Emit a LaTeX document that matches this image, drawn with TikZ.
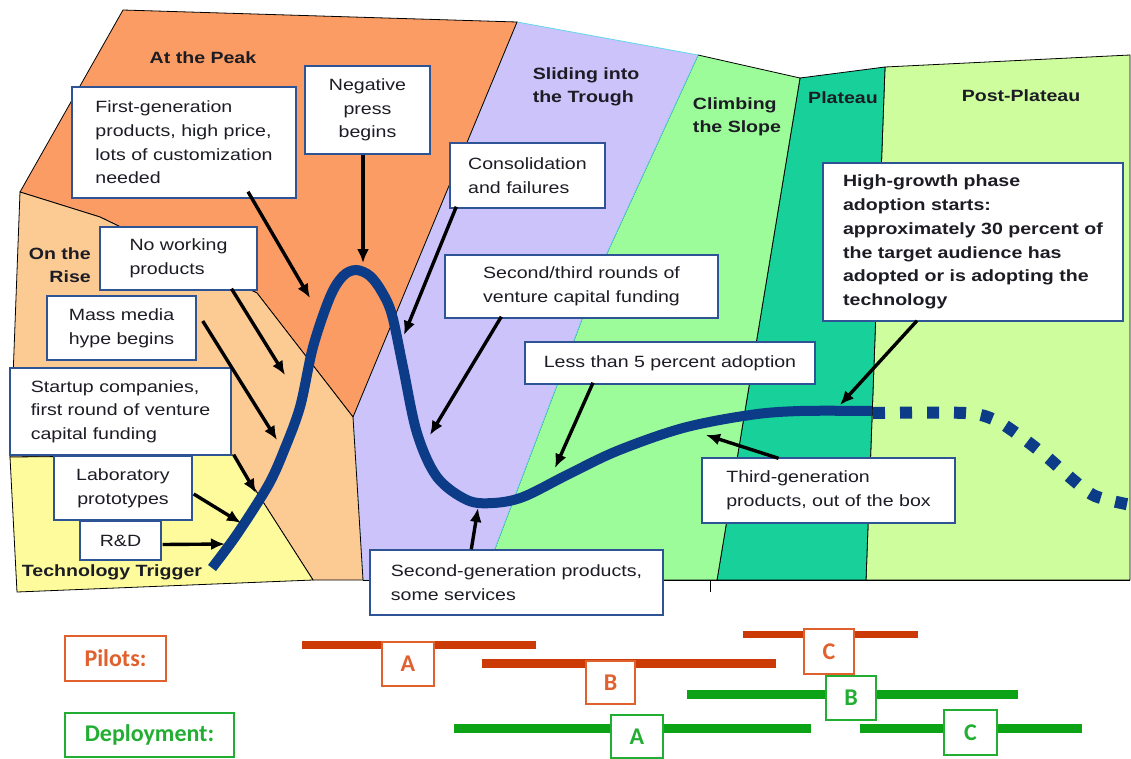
\documentclass[tikz,border=0pt]{standalone}
\usepackage{fontspec}
\setmainfont[FakeStretch=1.2]{Liberation Sans}
\newfontfamily\legendfont{Carlito}
\usetikzlibrary{arrows.meta,positioning}
\definecolor{peakorange}{HTML}{FA9C64}
\definecolor{riseorange}{HTML}{FCCB94}
\definecolor{triggeryellow}{HTML}{FDFB9C}
\definecolor{troughlilac}{HTML}{CCC3FA}
\definecolor{slopegreen}{HTML}{9DFC9A}
\definecolor{plateauteal}{HTML}{17D09A}
\definecolor{postgreen}{HTML}{CDFD9C}
\definecolor{cyanedge}{HTML}{5FD8EE}
\definecolor{hypeblue}{HTML}{0C3B88}
\definecolor{boxblue}{HTML}{2E5496}
\definecolor{textdark}{HTML}{1C1C24}
\definecolor{pilotred}{HTML}{CC3A06}
\definecolor{pilotedge}{HTML}{E0602E}
\definecolor{deploygreen}{HTML}{0CA316}
\definecolor{deployedge}{HTML}{22AE32}
\tikzset
{
  infobox/.style  = {rectangle, draw=boxblue, line width=1.4pt, fill=white, text=textdark, align=left, inner sep=3pt, font=\fontsize{16.3}{23.7}\selectfont},
  phase/.style    = {text=textdark, align=left, inner sep=0pt, font=\bfseries\fontsize{16.3}{23}\selectfont},
  pointer/.style  = {-{Latex[length=14pt,width=12pt]}, line width=3.4pt, black},
  region/.style   = {draw=black, line width=0.8pt},
  pilotbox/.style = {rectangle, draw=pilotedge, line width=1.6pt, fill=white, text=pilotedge, inner sep=0pt, font=\legendfont\bfseries\fontsize{24}{26}\selectfont},
  deploybox/.style= {rectangle, draw=deployedge, line width=1.6pt, fill=white, text=deployedge, inner sep=0pt, font=\legendfont\bfseries\fontsize{24}{26}\selectfont}
}
\begin{document}
\begin{tikzpicture}[x=1pt,y=-1pt]
  \useasboundingbox (0,0) rectangle (1131,758);
  % phases of the cycle
  \filldraw[region, fill=postgreen] (885,67) -- (1130,55) -- (1130,580) -- (866,580) -- cycle;
  \filldraw[region, fill=plateauteal] (800,78) -- (885,67) -- (866,580) -- (717,580) -- cycle;
  \filldraw[region, fill=slopegreen] (698,55) -- (800,78) -- (717,580) -- (483,580) -- (607,253) -- cycle;
  \filldraw[region, draw=cyanedge, fill=troughlilac] (517,22) -- (698,55) -- (607,253) -- (483,580) -- (363,580) -- (353,417) -- cycle;
  \filldraw[region, fill=peakorange] (123,10) -- (517,22) -- (353,417) -- (257,293) -- (100,217) -- (20,192) -- cycle;
  \filldraw[region, fill=riseorange] (20,192) -- (100,217) -- (257,293) -- (353,417) -- (363,580) -- (313,580) -- (233,455) -- (10,457) -- cycle;
  \filldraw[region, fill=triggeryellow] (10,457) -- (233,455) -- (313,580) -- (17,592) -- cycle;
  \draw[line width=0.8pt] (363,580) -- (1130,580);
  \draw[line width=0.8pt] (710,580) -- (710,592);

  \node[phase] (peak) at (203,58) {At the Peak};
  \node[phase] (trough) at (586,87) {Sliding into\\the Trough};
  \node[phase] (slope) at (737,117) {Climbing\\the Slope};
  \node[phase] (plateau) at (843,98) {Plateau};
  \node[phase] (post) at (1021,96) {Post-Plateau};
  \node[phase, align=right, anchor=east] (rise) at (91,265) {On the\\Rise};
  \node[phase] (trigger) at (112,572) {Technology Trigger};

  % hype curve
  \draw[hypeblue, line width=10pt] plot[smooth, tension=0.55] coordinates {(212,568) (233,540) (253,510) (270,482) (283,453) (300,407) (313,347) (330,297) (343,276) (356,270) (370,276) (382,292) (392,315) (403,367) (417,433) (437,477) (467,500) (493,503) (523,497) (567,475) (617,451) (683,428) (750,415) (800,411) (872,411)};
  \draw[hypeblue, line width=12pt, dash pattern=on 12pt off 15pt] plot[smooth, tension=0.5] coordinates {(873,413) (965,413) (995,420) (1020,436) (1047,457) (1072,479) (1095,496) (1131,505)};

  % callouts
  \node[infobox, minimum width=224pt, minimum height=111pt] (first) at (184,142.5) {First-generation\\products, high price,\\lots of customization\\needed};
  \node[infobox, align=center, minimum width=125pt, minimum height=88pt] (negpress) at (367.5,110) {Negative\\press\\begins};
  \node[infobox, minimum width=157pt, minimum height=63pt] (nowork) at (178.5,258.5) {No working\\products};
  \node[infobox, minimum width=149pt, minimum height=64pt] (massmedia) at (121.5,328) {Mass media\\hype begins};
  \node[infobox, minimum width=221pt, minimum height=87pt] (startup) at (120.5,411.5) {Startup companies,\\first round of venture\\capital funding};
  \node[infobox, align=center, minimum width=138pt, minimum height=64pt] (lab) at (123,488) {Laboratory\\prototypes};
  \node[infobox, minimum width=81pt, minimum height=39pt] (rnd) at (120.5,540.5) {R\&D};
  \node[infobox, minimum width=155pt, minimum height=65pt] (consol) at (527.5,175.5) {Consolidation\\and failures};
  \node[infobox, minimum width=273pt, minimum height=63pt] (secthird) at (581.5,286.5) {Second/third rounds of\\venture capital funding};
  \node[infobox, minimum width=290pt, minimum height=42pt] (lessfive) at (670,363) {Less than 5 percent adoption};
  \node[infobox, font=\bfseries\fontsize{16.3}{23.7}\selectfont, minimum width=300pt, minimum height=158pt] (highgrowth) at (973,242) {High-growth phase\\adoption starts:\\approximately 30 percent of\\the target audience has\\adopted or is adopting the\\technology};
  \node[infobox, minimum width=253pt, minimum height=65pt] (thirdgen) at (828.5,490.5) {Third-generation\\products, out of the box};
  \node[infobox, minimum width=293pt, minimum height=65pt] (secondgen) at (516.5,582.5) {Second-generation products,\\some services};

  \coordinate (tipfirst) at (310,298);
  \coordinate (tipneg) at (363,263);
  \coordinate (tipnowork) at (285,375);
  \coordinate (tipmass) at (277,440);
  \coordinate (tipstartup) at (256,493);
  \coordinate (tiplab) at (241,523);
  \coordinate (tiprnd) at (225,544);
  \coordinate (tipconsol) at (404,335);
  \coordinate (tipsecthird) at (430,435);
  \coordinate (tipless) at (555,468);
  \coordinate (tiphigh) at (840,405);
  \coordinate (tipthird) at (706,435);
  \coordinate (tipsecond) at (478,508);

  \draw[pointer] ([xshift=64pt,yshift=7pt]first.south) -- (tipfirst);
  \draw[pointer] ([xshift=-4.5pt]negpress.south) -- (tipneg);
  \draw[pointer] ([xshift=53pt,yshift=2pt]nowork.south) -- (tipnowork);
  \draw[pointer] ([xshift=6pt,yshift=7pt]massmedia.east) -- (tipmass);
  \draw[pointer] ([xshift=2pt,yshift=1pt]startup.south east) -- (tipstartup);
  \draw[pointer] ([xshift=1pt,yshift=-6pt]lab.east) -- (tiplab);
  \draw[pointer] ([xshift=1pt,yshift=-4pt]rnd.east) -- (tiprnd);
  \draw[pointer] ([xshift=7pt,yshift=2pt]consol.south west) -- (tipconsol);
  \draw[pointer] ([xshift=57pt,yshift=2pt]secthird.south west) -- (tipsecthird);
  \draw[pointer] ([xshift=-77pt,yshift=2pt]lessfive.south) -- (tipless);
  \draw[pointer] ([xshift=-56pt,yshift=1pt]highgrowth.south) -- (tiphigh);
  \draw[pointer] ([xshift=-50pt,yshift=-1pt]thirdgen.north) -- (tipthird);
  \draw[pointer] ([xshift=102pt]secondgen.north west) -- (tipsecond);

  % pilots and deployment
  \node[pilotbox, minimum width=101pt, minimum height=45pt] (pilots) at (115.5,658.5) {Pilots:};
  \node[deploybox, minimum width=169pt, minimum height=44pt] (deploy) at (149.5,735) {Deployment:};

  \draw[pilotred, line width=8pt] (302,645) -- (536,645);
  \draw[pilotred, line width=9pt] (482,663) -- (776,663);
  \draw[pilotred, line width=7pt] (743,634) -- (918,634);
  \draw[deploygreen, line width=9pt] (687,694) -- (1018,694);
  \draw[deploygreen, line width=9pt] (454,728) -- (811,728);
  \draw[deploygreen, line width=9pt] (860,728) -- (1082,728);

  \node[pilotbox, minimum width=52pt, minimum height=44pt] (pilota) at (408,664) {A};
  \node[pilotbox, minimum width=49pt, minimum height=43pt] (pilotb) at (610.5,682.5) {B};
  \node[pilotbox, minimum width=50pt, minimum height=45pt] (pilotc) at (829,651.5) {C};
  \node[deploybox, minimum width=50pt, minimum height=44pt] (deployb) at (851,698) {B};
  \node[deploybox, minimum width=52pt, minimum height=43pt] (deploya) at (637,736.5) {A};
  \node[deploybox, minimum width=53pt, minimum height=45pt] (deployc) at (970.5,732.5) {C};
\end{tikzpicture}
\end{document}
